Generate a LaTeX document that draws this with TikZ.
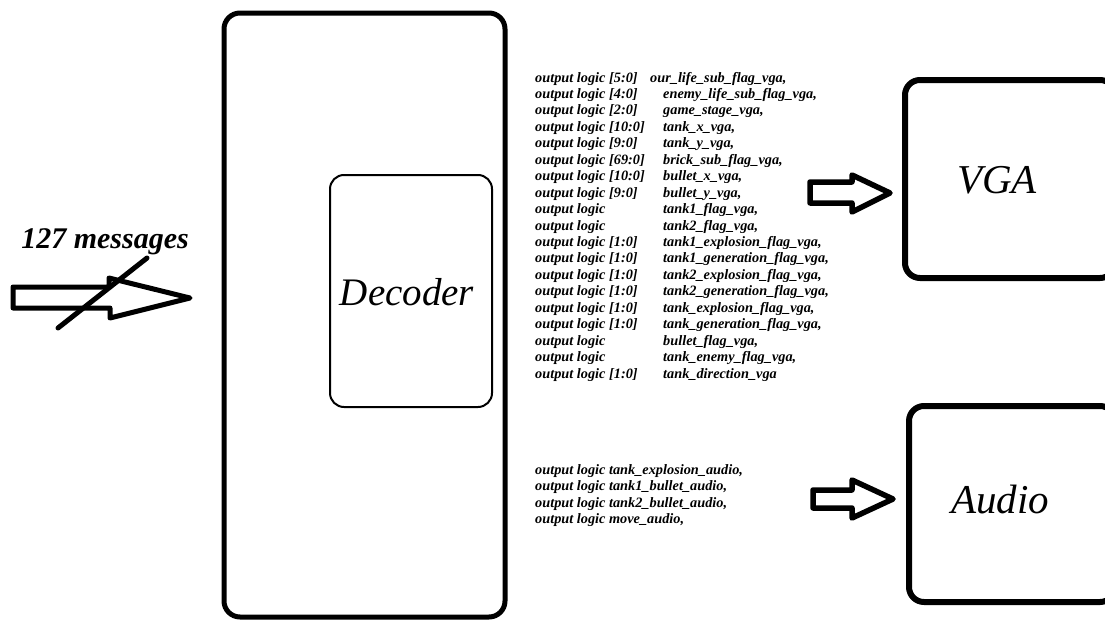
\documentclass[tikz,border=0pt]{standalone}
\usepackage{fontspec}
\newfontfamily\timesbi{Liberation Serif}
\begin{document}
\begin{tikzpicture}[x=1pt,y=-1pt,
  box/.style={draw, rounded corners=15pt, line width=6pt},
  blockarrow/.style={draw, line width=5.5pt, line join=round, fill=white},
  sig/.style={anchor=base west, inner sep=0pt, font=\timesbi\fontsize{14.3}{16}\selectfont\bfseries\itshape},
  big/.style={inner sep=0pt, font=\timesbi\fontsize{39}{42}\selectfont\itshape}]
\useasboundingbox (0,0) rectangle (1105,621);
\clip (0,0) rectangle (1105,621);
% boxes
\node[box, line width=5pt, rounded corners=16pt, minimum width=281pt, minimum height=604pt] (outer) at (364.5,315) {};
\node[box, line width=2pt, rounded corners=14pt, minimum width=162pt, minimum height=232pt] (dec) at (411,291) {};
\node[big] (declab) at (407,292) {Decoder};
\node[box, minimum width=210pt, minimum height=198pt] (vga) at (1010,179) {};
\node[big, font=\timesbi\fontsize{41}{44}\selectfont\itshape] (vgalab) at (997,180) {VGA};
\node[box, minimum width=206pt, minimum height=196pt] (audio) at (1012,504) {};
\node[big, font=\timesbi\fontsize{41}{44}\selectfont\itshape] (audiolab) at (1000,500) {Audio};
% input arrow
\draw[blockarrow, line width=5pt] (13,287) -- (109,287) -- (109,278) -- (190,298) -- (110,318) -- (110,308) -- (13,308) -- cycle;
\coordinate (s1) at (58,328);
\coordinate (s2) at (147,258);
\draw[line width=5pt, line cap=round] (s1) -- (s2);
\node[inner sep=0pt, font=\timesbi\fontsize{30}{32}\selectfont\bfseries\itshape] (msg) at (105,242) {127 messages};
% output arrows
\draw[blockarrow] (810,182) -- (852,182) -- (852,175) -- (890,193) -- (852,212) -- (852,203) -- (810,203) -- cycle;
\draw[blockarrow] (813,490) -- (852,490) -- (852,480) -- (893,499) -- (852,518) -- (852,508) -- (813,508) -- cycle;
% VGA signal list
\foreach \i/\w/\n in {
 0/{[5:0]}/{},
 1/{[4:0]}/{enemy\_life\_sub\_flag\_vga,},
 2/{[2:0]}/{game\_stage\_vga,},
 3/{[10:0]}/{tank\_x\_vga,},
 4/{[9:0]}/{tank\_y\_vga,},
 5/{[69:0]}/{brick\_sub\_flag\_vga,},
 6/{[10:0]}/{bullet\_x\_vga,},
 7/{[9:0]}/{bullet\_y\_vga,},
 8/{}/{tank1\_flag\_vga,},
 9/{}/{tank2\_flag\_vga,},
 10/{[1:0]}/{tank1\_explosion\_flag\_vga,},
 11/{[1:0]}/{tank1\_generation\_flag\_vga,},
 12/{[1:0]}/{tank2\_explosion\_flag\_vga,},
 13/{[1:0]}/{tank2\_generation\_flag\_vga,},
 14/{[1:0]}/{tank\_explosion\_flag\_vga,},
 15/{[1:0]}/{tank\_generation\_flag\_vga,},
 16/{}/{bullet\_flag\_vga,},
 17/{}/{tank\_enemy\_flag\_vga,},
 18/{[1:0]}/{tank\_direction\_vga}} {
  \node[sig] (a\i) at (535,{82+16.45*\i}) {output logic \w};
  \node[sig] (b\i) at (663,{82+16.45*\i}) {\n};
}
\node[sig] (b0x) at (650,82) {our\_life\_sub\_flag\_vga,};
% audio signal list
\node[sig] (c0) at (535,474) {output logic tank\_explosion\_audio,};
\node[sig] (c1) at (535,490.5) {output logic tank1\_bullet\_audio,};
\node[sig] (c2) at (535,507) {output logic tank2\_bullet\_audio,};
\node[sig] (c3) at (535,523.5) {output logic move\_audio,};
\end{tikzpicture}
\end{document}
